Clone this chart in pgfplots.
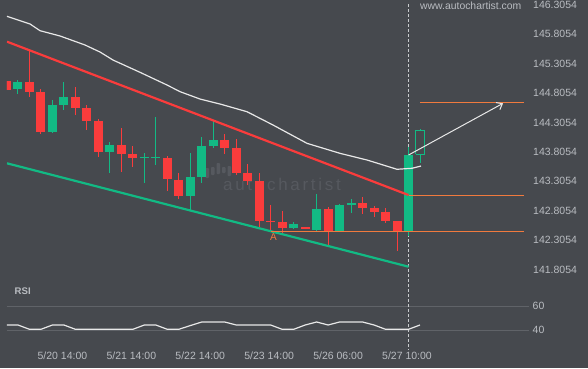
\documentclass[border=0pt]{standalone}
\usepackage{fontspec}
\setmainfont{Liberation Sans}
\newfontfamily\wmfont[LetterSpace=16]{Liberation Sans}
\usepackage{pgfplots}
\usepackage{pgfplotstable}
\pgfplotsset{compat=1.18}
\usetikzlibrary{arrows.meta}

\definecolor{bgc}{RGB}{70,73,78}
\definecolor{cred}{RGB}{250,60,60}
\definecolor{cgreen}{RGB}{18,186,132}
\definecolor{corange}{RGB}{240,122,62}
\definecolor{cwhite}{RGB}{232,232,232}
\definecolor{lblc}{RGB}{185,188,193}
\definecolor{gridc}{RGB}{96,99,104}
\definecolor{wmc}{RGB}{86,89,95}
\definecolor{dashc}{RGB}{200,202,205}

\pgfplotstableread{
i o h l c
0 145.012 145.012 144.864 144.864
2 144.995 145.539 144.734 144.830
3 144.825 144.870 144.105 144.149
6 144.739 144.910 144.438 144.552
7 144.552 144.603 144.173 144.336
8 144.331 144.360 143.723 143.803
10 143.922 144.212 143.468 143.774
11 143.769 143.905 143.553 143.706
14 143.701 143.735 143.145 143.339
15 143.327 143.441 142.998 143.059
19 144.008 144.110 143.764 143.876
20 143.871 144.020 143.407 143.451
21 143.441 143.599 143.247 143.310
22 143.310 143.441 142.532 142.629
23 142.624 142.901 142.447 142.620
24 142.612 142.799 142.424 142.515
26 142.515 142.515 142.505 142.505
28 142.828 142.872 142.220 142.459
31 142.935 143.032 142.743 142.855
32 142.850 142.884 142.702 142.787
33 142.782 142.845 142.590 142.629
34 142.629 142.629 142.118 142.459
}\redT

\pgfplotstableread{
i o h l c
1 144.870 145.029 144.785 144.995
4 144.149 144.688 144.132 144.603
5 144.603 144.995 144.523 144.739
9 143.803 143.973 143.451 143.922
12 143.718 143.781 143.281 143.718
13 143.718 144.404 143.577 143.718
16 143.059 143.781 142.816 143.378
17 143.383 144.054 143.281 143.905
18 143.910 144.326 143.866 144.008
25 142.515 142.612 142.487 142.578
27 142.476 143.088 142.464 142.828
29 142.459 142.924 142.459 142.901
30 142.924 143.003 142.760 142.924
35 142.464 143.894 142.373 143.752
}\greenT

\pgfplotstableread{
x y
0.04 146.113
2.05 145.982
2.92 145.868
4.66 145.778
6.83 145.625
8.14 145.505
9.27 145.369
11.62 145.160
13.97 144.944
15.11 144.830
16.85 144.705
18.59 144.620
20.94 144.489
23.20 144.263
26.16 143.951
29.03 143.781
31.39 143.667
34.00 143.509
35.30 143.526
36.09 143.565
}\maT

\pgfplotstableread{
i r
0 44.17
1 44.17
2 40.58
3 40.58
4 44.17
5 44.17
6 40.58
7 40.58
8 40.58
9 40.58
10 40.58
11 40.58
12 44.17
13 44.17
14 40.58
15 40.58
16 43.67
17 46.67
18 46.67
19 46.67
20 44.17
21 44.17
22 44.17
23 44.17
24 40.58
25 40.58
26 44.17
27 46.67
28 44.17
29 46.67
30 46.67
31 46.67
32 44.17
33 40.58
34 40.58
35 40.58
36 44.17
}\rsiT

\begin{document}
\begin{tikzpicture}[x=1pt,y=1pt]
\fill[bgc] (0,0) rectangle (588,368);
\useasboundingbox (0,0) rectangle (588,368);

% watermark
\begin{scope}[wmc]
\fill[rounded corners=0.8pt] (205.5,190) rectangle (209,200);
\fill[rounded corners=0.8pt] (211,193) rectangle (214.5,201);
\fill[rounded corners=0.8pt] (216.5,194) rectangle (220,205);
\fill[rounded corners=0.8pt] (222,195) rectangle (225.5,201);
\fill[rounded corners=0.8pt] (227.5,192) rectangle (231,202);
\end{scope}
\node[anchor=base, text=wmc, inner sep=0pt, font=\wmfont\fontsize{17}{20}\selectfont] at (282,177.3) {autochartist};

\begin{axis}[
  at={(7pt,84pt)}, anchor=south west, scale only axis,
  width=522pt, height=284pt,
  xmin=0.0435, xmax=45.49, ymin=141.5566, ymax=146.3905,
  axis line style={draw=none}, tick style={draw=none},
  xtick=\empty,
  ytick={141.8054,142.3054,142.8054,143.3054,143.8054,144.3054,144.8054,145.3054,145.8054,146.3054},
  yticklabels={141.8054,142.3054,142.8054,143.3054,143.8054,144.3054,144.8054,145.3054,145.8054,146.3054},
  yticklabel pos=right,
  yticklabel style={font=\fontsize{10.5}{12}\selectfont, text=lblc, anchor=west, inner sep=0pt, xshift=4pt},
]
% dashed current-bar line
\addplot[dashc, line width=0.8pt, dash pattern=on 3pt off 2pt] coordinates {(35.02,146.32) (35.02,141.5566)};

% wicks
\addplot[draw=none, mark=none, forget plot, error bars/.cd, y dir=both, y explicit, error mark=none,
  error bar style={draw=cred, line width=1pt}]
  table[x=i, y expr={(\thisrow{h}+\thisrow{l})/2}, y error expr={(\thisrow{h}-\thisrow{l})/2}] {\redT};
\addplot[draw=none, mark=none, forget plot, error bars/.cd, y dir=both, y explicit, error mark=none,
  error bar style={draw=cgreen, line width=1pt}]
  table[x=i, y expr={(\thisrow{h}+\thisrow{l})/2}, y error expr={(\thisrow{h}-\thisrow{l})/2}] {\greenT};
% bodies
\addplot[draw=none, mark=none, forget plot, error bars/.cd, y dir=both, y explicit, error mark=none,
  error bar style={draw=cred, line width=9pt}]
  table[x=i, y expr={(\thisrow{o}+\thisrow{c})/2}, y error expr={max(abs(\thisrow{o}-\thisrow{c})/2,0.0085)}] {\redT};
\addplot[draw=none, mark=none, forget plot, error bars/.cd, y dir=both, y explicit, error mark=none,
  error bar style={draw=cgreen, line width=9pt}]
  table[x=i, y expr={(\thisrow{o}+\thisrow{c})/2}, y error expr={max(abs(\thisrow{o}-\thisrow{c})/2,0.0085)}] {\greenT};

% current hollow candle
\addplot[cgreen, line width=1pt] coordinates {(35.65,143.764) (36.37,143.764) (36.37,144.161) (35.65,144.161) (35.65,143.764)};
\addplot[cgreen, line width=1pt] coordinates {(36.01,144.161) (36.01,144.195)};
\addplot[cgreen, line width=1pt] coordinates {(36.01,143.764) (36.01,143.621)};

% channel lines
\addplot[cred, line width=2.2pt] coordinates {(0.0435,145.681) (35,143.071)};
\addplot[cgreen, line width=2.2pt] coordinates {(0.0435,143.611) (35,141.851)};

% orange levels
\addplot[corange, line width=1pt] coordinates {(23,142.4586) (45.05,142.4586)};
\addplot[corange, line width=1pt] coordinates {(35,143.068) (45.05,143.068)};
\addplot[corange, line width=1pt] coordinates {(36,144.649) (45.05,144.649)};

% moving average
\addplot[cwhite, line width=1.2pt] table[x=x, y=y] {\maT};

% forecast arrow
\addplot[cwhite, line width=1pt, -{Straight Barb[length=5pt,width=8pt]}] coordinates {(35,143.752) (43.23,144.632)};

\node[text=corange, font=\fontsize{10}{12}\selectfont, inner sep=0pt] at (axis cs:23.25,142.357) {A};
\end{axis}

\begin{axis}[
  at={(7pt,18pt)}, anchor=south west, scale only axis,
  width=522pt, height=66pt,
  xmin=0.0435, xmax=45.49, ymin=23.33, ymax=78.33,
  axis line style={draw=none}, tick style={draw=none},
  xtick={5,11,17,23,29,35},
  xticklabels={5/20 14:00,5/21 14:00,5/22 14:00,5/23 14:00,5/26 06:00,5/27 10:00},
  xticklabel style={font=\fontsize{10.5}{12}\selectfont, text=lblc, anchor=north, inner sep=0pt, yshift=-2pt, xshift=-1.5pt},
  ytick={40,60}, yticklabels={40,60},
  yticklabel pos=right,
  yticklabel style={font=\fontsize{10.5}{12}\selectfont, text=lblc, anchor=west, inner sep=0pt, xshift=3.5pt},
  ymajorgrids, grid style={gridc, line width=0.8pt},
]
\addplot[dashc, line width=0.8pt, dash pattern=on 3pt off 2pt] coordinates {(35.02,78.33) (35.02,23.33)};
\addplot[cwhite, line width=1.2pt] table[x=i, y=r] {\rsiT};
\end{axis}

\node[anchor=west, text=lblc, inner sep=0pt, font=\bfseries\fontsize{9.6}{11}\selectfont] at (14.5,77) {RSI};
\node[anchor=west, text=lblc, inner sep=0pt, font=\fontsize{10.4}{12}\selectfont] at (420,362) {www.autochartist.com};
\end{tikzpicture}
\end{document}
